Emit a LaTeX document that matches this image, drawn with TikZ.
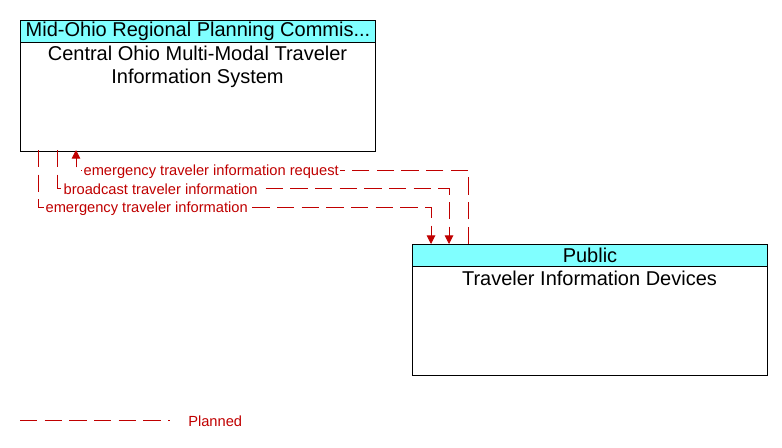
\documentclass[tikz,border=0pt]{standalone}
\usepackage{fontspec}
\setmainfont{Liberation Sans}
\usetikzlibrary{arrows.meta,calc}
\definecolor{flowred}{RGB}{192,0,0}
\definecolor{headcyan}{RGB}{128,255,255}
\tikzset{
  hdr/.style={draw=black,line width=0.75pt,fill=headcyan,anchor=north west,minimum width=266.25pt,minimum height=16.5pt,inner sep=0pt,font=\fontsize{15}{17}\selectfont},
  bodybox/.style={draw=black,line width=0.75pt,fill=white,anchor=north west,minimum width=266.25pt,minimum height=81.75pt,inner sep=0pt},
  bodytxt/.style={anchor=north,align=center,inner sep=0pt,font=\fontsize{15}{17}\selectfont},
  flow/.style={draw=flowred,line width=0.75pt,dash pattern=on 13pt off 5.5pt,-{Triangle[length=6.5pt,width=6.5pt]}},
  flowlbl/.style={anchor=west,fill=white,text=flowred,inner sep=1pt,font=\fontsize{11}{12}\selectfont},
}
\begin{document}
\begin{tikzpicture}[x=0.75pt,y=-0.75pt]
\useasboundingbox (0,0) rectangle (782,447);
% top box
\node[bodybox] (b1) at (20,42) {};
\node[hdr] (h1) at (20,20) {Mid-Ohio Regional Planning Commis...};
\node[bodytxt] (t1) at (197.5,46) {Central Ohio Multi-Modal Traveler\\Information System};
% bottom box
\node[bodybox] (b2) at (412,266) {};
\node[hdr] (h2) at (412,244) {Public};
\node[bodytxt] (t2) at (589.5,271) {Traveler Information Devices};
% connector coordinates
\coordinate (a1) at (468,244);
\coordinate (a1m) at (76,170);
\coordinate (a1e) at (76,150);
\coordinate (a2) at (57,150);
\coordinate (a2m) at (449,188);
\coordinate (a2e) at (449,244);
\coordinate (a3) at (38,150);
\coordinate (a3m) at (431,207);
\coordinate (a3e) at (431,244);
% connectors
\draw[flow] (a1) |- (a1m) -- (a1e);
\draw[flow] (a2) |- (a2m) -- (a2e);
\draw[flow] (a3) |- (a3m) -- (a3e);
% labels
\node[flowlbl] (l1) at (82,171.5) {emergency traveler information request};
\node[flowlbl] (l2) at (62,189.5) {broadcast traveler information};
\node[flowlbl] (l3) at (44,208.5) {emergency traveler information};
% legend
\coordinate (lg1) at (20,420);
\coordinate (lg2) at (170,420);
\draw[flowred,line width=0.75pt,dash pattern=on 13pt off 5.5pt] (lg1) -- (lg2);
\node[anchor=west,text=flowred,inner sep=0pt,font=\fontsize{11}{12}\selectfont] (lgt) at (188,421) {Planned};
\end{tikzpicture}
\end{document}
